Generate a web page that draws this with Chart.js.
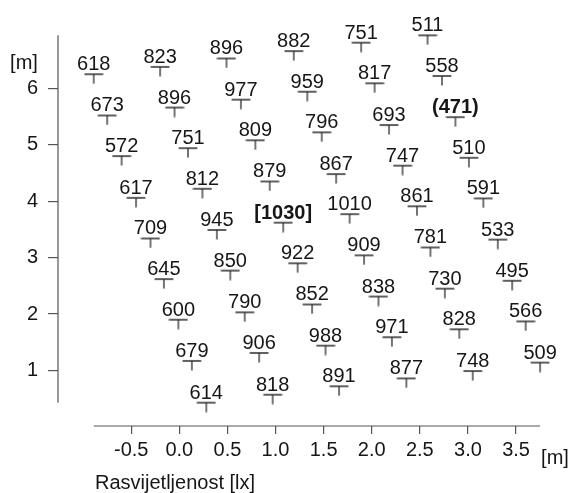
<!DOCTYPE html>
<html>
<head>
<meta charset="utf-8">
<script src="https://cdn.jsdelivr.net/npm/chart.js@4.4.1/dist/chart.umd.min.js"></script>
<style>
  html, body { margin: 0; padding: 0; background: #fff; }
  canvas { display: block; }
</style>
</head>
<body>
<canvas id="c" width="571" height="493"></canvas>
<script>
// Illuminance [lx] at each measuring point, listed column by column (9 points per column)
const lux = [
  618, 673, 572, 617, 709, 645, 600, 679, 614,
  823, 896, 751, 812, 945, 850, 790, 906, 818,
  896, 977, 809, 879, 1030, 922, 852, 988, 891,
  882, 959, 796, 867, 1010, 909, 838, 971, 877,
  751, 817, 693, 747, 861, 781, 730, 828, 748,
  511, 558, 471, 510, 591, 533, 495, 566, 509
];
// Position of each measuring point [m]
const posX = [
  -0.89, -0.75, -0.60, -0.45, -0.30, -0.16, -0.01, 0.13, 0.28,
  -0.20, -0.05, 0.09, 0.24, 0.39, 0.53, 0.68, 0.83, 0.97,
  0.49, 0.64, 0.79, 0.94, 1.08, 1.23, 1.38, 1.52, 1.66,
  1.19, 1.33, 1.48, 1.63, 1.77, 1.92, 2.07, 2.21, 2.36,
  1.89, 2.03, 2.18, 2.32, 2.47, 2.61, 2.76, 2.91, 3.05,
  2.58, 2.73, 2.87, 3.01, 3.16, 3.31, 3.46, 3.60, 3.75
];
const posY = [
  6.25, 5.52, 4.80, 4.06, 3.34, 2.62, 1.90, 1.17, 0.43,
  6.38, 5.66, 4.94, 4.22, 3.49, 2.77, 2.03, 1.31, 0.57,
  6.53, 5.80, 5.08, 4.35, 3.62, 2.90, 2.17, 1.44, 0.72,
  6.66, 5.94, 5.22, 4.48, 3.77, 3.04, 2.31, 1.59, 0.86,
  6.81, 6.09, 5.35, 4.63, 3.91, 3.18, 2.45, 1.73, 0.99,
  6.94, 6.22, 5.49, 4.77, 4.05, 3.32, 2.59, 1.87, 1.14
];
const xTicks = [-0.5, 0, 0.5, 1, 1.5, 2, 2.5, 3, 3.5];
const yTicks = [1, 2, 3, 4, 5, 6];

const FONT = '"Liberation Sans", Arial, Helvetica, sans-serif';
const INK = '#161616';
const AXIS = '#555';

Chart.defaults.font.family = FONT;

// "T" shaped marker: the bar sits on the point, the stem hangs below it
function makeTee() {
  const c = document.createElement('canvas');
  c.width = 20; c.height = 20;
  const g = c.getContext('2d');
  g.strokeStyle = '#2c2c2c';
  g.lineWidth = 1.3;
  g.beginPath();
  g.moveTo(0.6, 10); g.lineTo(19.4, 10);
  g.moveTo(10, 10); g.lineTo(10, 19.5);
  g.stroke();
  return c;
}

const points = lux.map((v, i) => ({ x: posX[i], y: posY[i] }));

const overlay = {
  id: 'overlay',
  afterDatasetsDraw(chart) {
    const ctx = chart.ctx;
    const xs = chart.scales.x, ys = chart.scales.y, area = chart.chartArea;
    ctx.save();

    // axis lines span the extent of the measured points
    ctx.strokeStyle = AXIS;
    ctx.lineWidth = 1.2;
    ctx.beginPath();
    ctx.moveTo(area.left, ys.getPixelForValue(Math.min(...posY)));
    ctx.lineTo(area.left, ys.getPixelForValue(Math.max(...posY)));
    ctx.moveTo(xs.getPixelForValue(Math.min(...posX)), area.bottom);
    ctx.lineTo(xs.getPixelForValue(Math.max(...posX)), area.bottom);
    ctx.stroke();

    // value labels above each marker; maximum in [ ], minimum in ( )
    const hi = Math.max(...lux), lo = Math.min(...lux);
    const meta = chart.getDatasetMeta(0);
    ctx.fillStyle = INK;
    ctx.textAlign = 'center';
    ctx.textBaseline = 'alphabetic';
    meta.data.forEach((pt, i) => {
      const v = lux[i];
      let text = String(v), bold = false;
      if (v === hi) { text = '[' + v + ']'; bold = true; }
      else if (v === lo) { text = '(' + v + ')'; bold = true; }
      ctx.font = (bold ? 'bold ' : '') + '20px ' + FONT;
      ctx.fillText(text, pt.x, pt.y - 4);
    });

    // unit and axis captions
    ctx.font = '20px ' + FONT;
    ctx.textBaseline = 'middle';
    ctx.textAlign = 'center';
    ctx.fillText('[m]', 24, 63);
    ctx.fillText('[m]', 555, 458);
    ctx.textAlign = 'left';
    ctx.fillText('Rasvijetljenost [lx]', 95, 483);
    ctx.restore();
  }
};

new Chart(document.getElementById('c'), {
  type: 'scatter',
  data: {
    datasets: [{
      data: points,
      pointStyle: makeTee(),
      pointRadius: 6,
      showLine: false
    }]
  },
  options: {
    responsive: false,
    devicePixelRatio: 1,
    animation: false,
    events: [],
    layout: { padding: { top: 20, right: 11, left: 0, bottom: 0 } },
    plugins: { legend: { display: false }, tooltip: { enabled: false } },
    scales: {
      x: {
        type: 'linear',
        min: -1.261,
        max: 3.957,
        afterBuildTicks: s => { s.ticks = xTicks.map(v => ({ value: v })); },
        afterFit: s => { s.height = 67; },
        border: { display: false },
        grid: { display: true, drawOnChartArea: false, drawTicks: true, tickLength: 8, color: AXIS, lineWidth: 1.2 },
        ticks: { font: { size: 20 }, color: INK, padding: 4, maxRotation: 0, autoSkip: false,
                 callback: v => Number(v).toFixed(1) }
      },
      y: {
        type: 'linear',
        min: 0.016,
        max: 7.176,
        afterBuildTicks: s => { s.ticks = yTicks.map(v => ({ value: v })); },
        afterFit: s => { s.width = 58; },
        border: { display: false },
        grid: { display: true, drawOnChartArea: false, drawTicks: true, tickLength: 10, color: AXIS, lineWidth: 1.2 },
        ticks: { font: { size: 20 }, color: INK, padding: 10, autoSkip: false,
                 callback: v => String(v) }
      }
    }
  },
  plugins: [overlay]
});
</script>
</body>
</html>
